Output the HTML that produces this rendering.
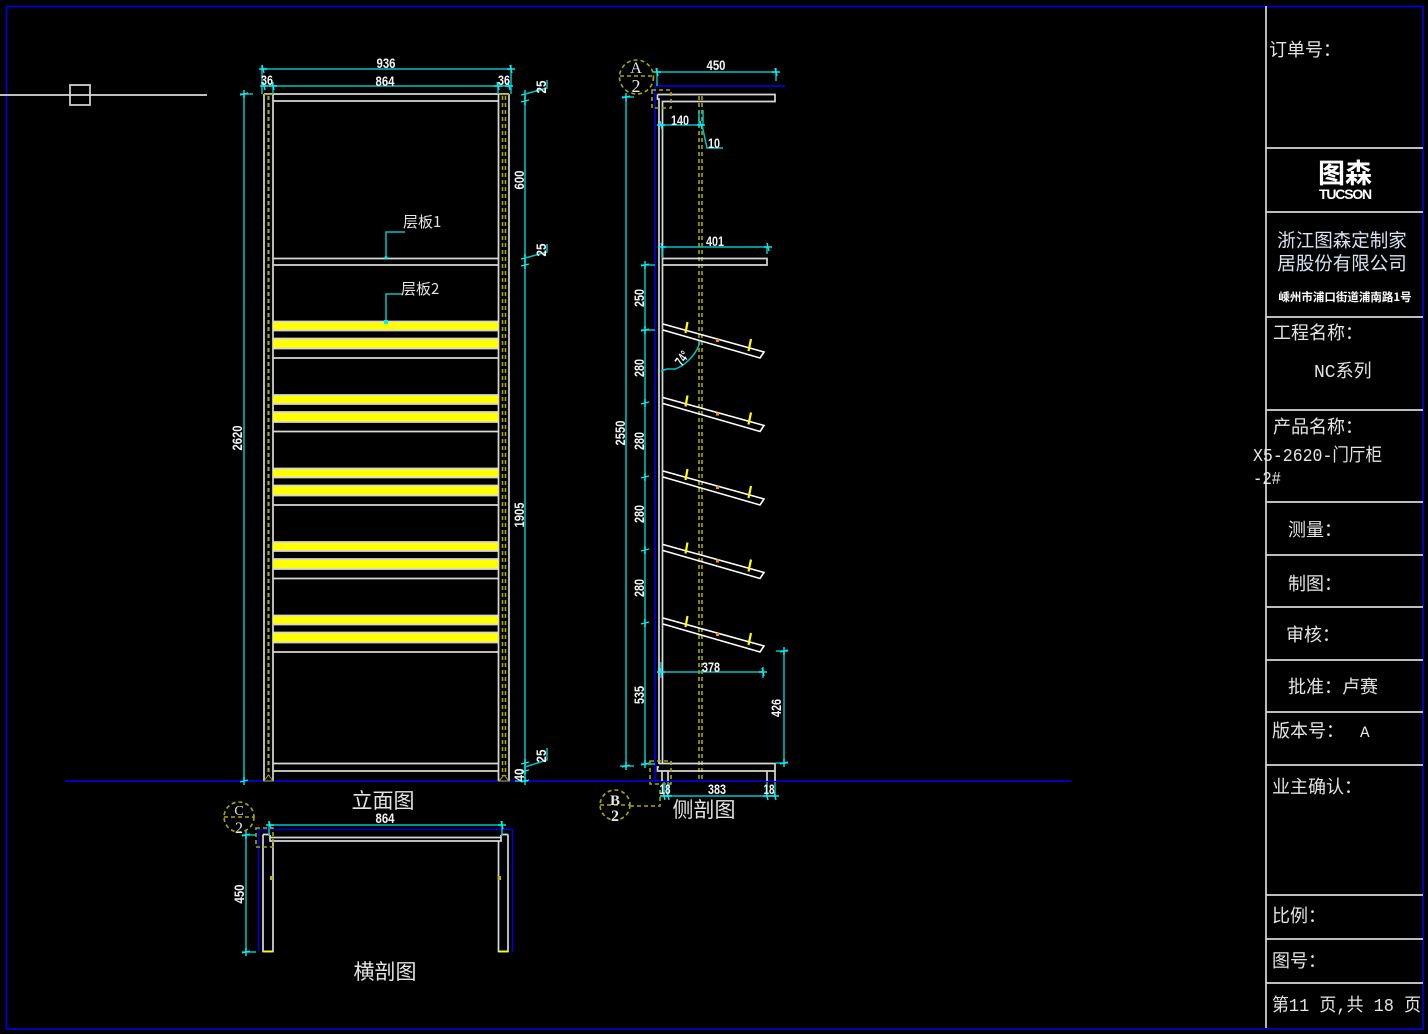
<!DOCTYPE html>
<html><head><meta charset="utf-8"><style>
html,body{margin:0;padding:0;background:#000;width:1428px;height:1034px;overflow:hidden}
svg{display:block}
.w{stroke:#d8d8d8;stroke-width:1.7;fill:none}
.wb{stroke:#fff;stroke-width:1.6;fill:none}
.c{stroke:#00c4c4;stroke-width:1.5;fill:none}
.cb{stroke:#00f0f0;stroke-width:1.4;fill:none}
.b{stroke:#0000d8;stroke-width:1.7;fill:none}
.o{stroke:#a8a800;stroke-width:1.6;fill:none;stroke-dasharray:4 3}
.y{stroke:#ffff00;stroke-width:2.2;fill:none}
text{fill:#e8e8e8;font-family:"Liberation Sans","WenQuanYi Zen Hei","Noto Sans CJK SC",sans-serif}
.d{font-family:"Liberation Sans",sans-serif;font-weight:bold;font-size:14px;fill:#f4f4f4;text-anchor:middle}
.t{font-family:"WenQuanYi Zen Hei","Noto Sans CJK SC",sans-serif;font-size:18px;fill:#e4e4e4}
.m{font-family:"Liberation Mono","WenQuanYi Zen Hei",monospace;font-size:18px;fill:#e4e4e4}
.l{font-family:"WenQuanYi Zen Hei","Noto Sans CJK SC",sans-serif;font-size:21px;fill:#e4e4e4;text-anchor:middle}
</style></head><body>
<svg width="1428" height="1034" viewBox="0 0 1428 1034" xmlns="http://www.w3.org/2000/svg">
<defs>
<g id="ty"><path class="cb" d="M-4 1 L4 -1 M0 -4 V4"/></g>
<g id="tx"><path class="cb" d="M-1 -4 L1 4 M-4 0 H4"/></g>
<g id="bays">
<rect x="273" y="322" width="225" height="8" fill="#ffff00"/>
<rect x="273" y="339" width="225" height="9" fill="#ffff00"/>
<path class="w" d="M273 321.500H498 M273 330.500H498 M273 338.500H498 M273 348.500H498 M273 358H498"/>
</g>
<g id="sh">
<path class="wb" d="M663 324 L764 352 L760 358 L663 330"/>
<path class="y" d="M687.500 322 L685.500 333 M751 339 L748.500 351"/>
<rect x="716" y="339" width="3" height="3" fill="#ff9000"/>
</g>
</defs>
<rect width="1428" height="1034" fill="#000"/>
<rect class="b" x="6.500" y="6.500" width="1416.500" height="1022.500"/>

<!-- crosshair -->
<path class="w" d="M0 95H207"/><rect class="w" x="70" y="85" width="20" height="20"/>

<!-- baseline -->
<path class="b" d="M65 781H1071"/>

<!-- FRONT ELEVATION -->
<path class="w" d="M264 94V781 M273 94V781 M498.500 94V781 M509 94V781 M264 94H509 M273 101H498 M273 258.500H498 M273 265H498 M273 763.500H498 M273 771H498"/>
<path class="o" style="stroke-width:2.200" d="M268.500 96V776"/>
<path class="o" d="M502.500 96V776 M505.500 96V776"/>
<path d="M264 781L268.500 775L273 781Z M499 781L504 775L509 781Z" fill="none" stroke="#a8a800"/>
<path d="M264 94.500H273 M499 94.500H509" stroke="#a8a800" stroke-width="1.300"/>
<use href="#bays"/>
<use href="#bays" y="73.500"/>
<use href="#bays" y="147"/>
<use href="#bays" y="220.500"/>
<use href="#bays" y="294"/>

<!-- front dims -->
<path class="c" d="M262 69H511 M262 65V94 M511 65V94 M263 86H510 M273 82V94 M498 82V94 M244 94V781 M240 94H253 M525 94V781 M515 781H528"/>
<use href="#tx" x="263" y="69"/><use href="#tx" x="511" y="69"/>
<use href="#tx" x="264" y="86"/><use href="#tx" x="273" y="86"/><use href="#tx" x="498" y="86"/><use href="#tx" x="509" y="86"/>
<use href="#ty" x="244" y="94"/><use href="#ty" x="244" y="781"/>
<use href="#ty" x="525" y="94"/><use href="#ty" x="525" y="101"/><use href="#ty" x="525" y="258"/><use href="#ty" x="525" y="265"/><use href="#ty" x="525" y="763"/><use href="#ty" x="525" y="771"/><use href="#ty" x="525" y="781"/>
<path class="c" d="M525 94L547 88V80 M525 258L547 252V244 M525 767L547 760V748"/>
<text class="d" x="386" y="68" textLength="19" lengthAdjust="spacingAndGlyphs">936</text>
<text class="d" x="385" y="86" textLength="19" lengthAdjust="spacingAndGlyphs">864</text>
<text class="d" x="267" y="85" textLength="12" lengthAdjust="spacingAndGlyphs">36</text>
<text class="d" x="504" y="85" textLength="12" lengthAdjust="spacingAndGlyphs">36</text>
<text class="d" transform="translate(242,438) rotate(-90)" textLength="25" lengthAdjust="spacingAndGlyphs">2620</text>
<text class="d" transform="translate(524,180) rotate(-90)" textLength="19" lengthAdjust="spacingAndGlyphs">600</text>
<text class="d" transform="translate(524,515) rotate(-90)" textLength="25" lengthAdjust="spacingAndGlyphs">1905</text>
<text class="d" transform="translate(546,87) rotate(-90)" textLength="13" lengthAdjust="spacingAndGlyphs">25</text>
<text class="d" transform="translate(546,250) rotate(-90)" textLength="13" lengthAdjust="spacingAndGlyphs">25</text>
<text class="d" transform="translate(546,756) rotate(-90)" textLength="13" lengthAdjust="spacingAndGlyphs">25</text>
<text class="d" transform="translate(524,775) rotate(-90)" textLength="13" lengthAdjust="spacingAndGlyphs">40</text>

<!-- leaders -->
<path class="c" d="M386 258V232H405 M386 321V294H403"/>
<rect x="384.500" y="256.500" width="3" height="3" fill="#00f0f0"/><rect x="384" y="320" width="4" height="4" fill="#00f0f0"/>
<text class="t" style="font-size:15px" x="403" y="227">层板1</text>
<text class="t" style="font-size:15px" x="401" y="294">层板2</text>
<text class="l" x="383" y="808">立面图</text>

<!-- HORIZONTAL SECTION -->
<path class="b" style="stroke-width:1.500" d="M258.500 952V829.500H512.500V952"/>
<path class="w" d="M263 834.500H270 M263 834.500V951.500H273V841 M508 834.500H501 M508 834.500V951.500H498.500V841 M270 835V841H501V835 M270 837.500H501"/>
<path d="M263.500 951.500H272.500 M499 951.500H507.500" stroke="#ffff00" stroke-width="1.800"/>
<rect x="270" y="876" width="3" height="4" fill="#b8b800"/><rect x="498" y="876" width="3" height="4" fill="#b8b800"/>
<path class="c" d="M269 825H502 M269 821V836 M502 821V836 M246 835V953 M242 835H256 M242 952H256"/>
<use href="#tx" x="270" y="825"/><use href="#tx" x="502" y="825"/><use href="#ty" x="246" y="835"/><use href="#ty" x="246" y="952"/>
<text class="d" x="385" y="823" textLength="19" lengthAdjust="spacingAndGlyphs">864</text>
<text class="d" transform="translate(244,894) rotate(-90)" textLength="19" lengthAdjust="spacingAndGlyphs">450</text>
<circle class="o" cx="239" cy="817" r="15"/><path class="o" d="M224 817H254"/>
<rect class="o" x="256" y="828" width="17" height="19"/>
<text x="239" y="815" style="font-size:14px;text-anchor:middle;font-family:'Liberation Serif',serif">C</text>
<text x="239" y="833" style="font-size:16px;text-anchor:middle;font-family:'Liberation Serif',serif">2</text>
<text class="l" x="385" y="979">横剖图</text>

<!-- SIDE SECTION -->
<path class="b" d="M655 86V781 M655 86H785"/>
<path class="o" d="M699 96V781 M702 96V781"/>
<path class="w" d="M657.500 94.500H775V101.500H662.500V764 M657.500 94.500V99H659V764 M662.500 258.500V265H767V258.500H662.500"/>
<path class="w" d="M659 763.500H775V771H657.500V767H659 M662 771V781 M668 771V781 M767 771V781 M775 771V781"/>
<use href="#sh"/>
<use href="#sh" y="73.500"/>
<use href="#sh" y="147"/>
<use href="#sh" y="220.500"/>
<use href="#sh" y="294"/>
<circle class="o" cx="636.500" cy="77" r="17"/><path class="o" d="M620 76H654"/>
<rect class="o" x="652" y="90" width="19" height="18"/>
<text x="636" y="73" style="font-size:16px;text-anchor:middle;font-family:'Liberation Serif',serif">A</text>
<text x="636" y="92" style="font-size:18px;text-anchor:middle;font-family:'Liberation Serif',serif">2</text>
<circle class="o" cx="615" cy="805" r="15"/><path class="o" d="M600 805H630"/>
<text x="615" y="805" style="font-size:15px;font-weight:bold;text-anchor:middle;font-family:'Liberation Serif',serif">B</text>
<text x="615" y="821" style="font-size:16px;font-weight:bold;text-anchor:middle;font-family:'Liberation Serif',serif">2</text>
<path class="o" d="M630 806H660V790"/><rect class="o" x="650" y="761" width="21" height="23"/>
<text class="l" x="704" y="817">侧剖图</text>

<!-- side dims -->
<path class="c" d="M657 72H777 M657 68V86 M776 68V81 M660 125H704 M699 110V125 M703 110V125 M702 125L707 148H723 M662 247H768 M767 247V254 M662 247V258 M626 97V768 M622 97H634 M620 766H634 M645 265V764 M641 265H655 M641 330H655 M641 764H655 M661 672H762 M763 667V678 M661 662V678 M784 651V763 M776 651H788 M776 763H788 M660 796H775 M664 782V797 M668 782V797 M767 782V797 M775 782V797"/>
<path class="c" d="M661 371L667 369H675C685 366 698 353 700 341"/>
<use href="#tx" x="657" y="72"/><use href="#tx" x="776" y="72"/><use href="#tx" x="661" y="125"/><use href="#tx" x="701" y="125"/>
<use href="#tx" x="662" y="247"/><use href="#tx" x="768" y="247"/><use href="#tx" x="661" y="672"/><use href="#tx" x="763" y="672"/>
<use href="#ty" x="626" y="97"/><use href="#ty" x="626" y="766"/><use href="#ty" x="784" y="651"/><use href="#ty" x="784" y="763"/>
<use href="#ty" x="645" y="265"/><use href="#ty" x="645" y="330"/><use href="#ty" x="645" y="403"/><use href="#ty" x="645" y="477"/><use href="#ty" x="645" y="550"/><use href="#ty" x="645" y="623"/><use href="#ty" x="645" y="764"/>
<use href="#tx" x="664" y="796"/><use href="#tx" x="668" y="796"/><use href="#tx" x="767" y="796"/><use href="#tx" x="775" y="796"/>
<text class="d" x="716" y="70" textLength="19" lengthAdjust="spacingAndGlyphs">450</text>
<text class="d" x="680" y="125" textLength="18" lengthAdjust="spacingAndGlyphs">140</text>
<text class="d" x="714" y="148" textLength="12" lengthAdjust="spacingAndGlyphs">10</text>
<text class="d" x="715" y="246" textLength="18" lengthAdjust="spacingAndGlyphs">401</text>
<text class="d" x="711" y="672" textLength="18" lengthAdjust="spacingAndGlyphs">378</text>
<text class="d" x="717" y="794" textLength="18" lengthAdjust="spacingAndGlyphs">383</text>
<text class="d" x="665" y="794" textLength="11" lengthAdjust="spacingAndGlyphs">18</text>
<text class="d" x="769" y="794" textLength="11" lengthAdjust="spacingAndGlyphs">18</text>
<text class="d" transform="translate(625,433) rotate(-90)" textLength="25" lengthAdjust="spacingAndGlyphs">2550</text>
<text class="d" transform="translate(644,298) rotate(-90)" textLength="18" lengthAdjust="spacingAndGlyphs">250</text>
<text class="d" transform="translate(644,368) rotate(-90)" textLength="18" lengthAdjust="spacingAndGlyphs">280</text>
<text class="d" transform="translate(644,441) rotate(-90)" textLength="18" lengthAdjust="spacingAndGlyphs">280</text>
<text class="d" transform="translate(644,514) rotate(-90)" textLength="18" lengthAdjust="spacingAndGlyphs">280</text>
<text class="d" transform="translate(644,588) rotate(-90)" textLength="18" lengthAdjust="spacingAndGlyphs">280</text>
<text class="d" transform="translate(644,695) rotate(-90)" textLength="18" lengthAdjust="spacingAndGlyphs">535</text>
<text class="d" transform="translate(781,708) rotate(-90)" textLength="18" lengthAdjust="spacingAndGlyphs">426</text>
<text class="d" transform="translate(686,361) rotate(-55)" textLength="14" lengthAdjust="spacingAndGlyphs">74°</text>

<!-- TITLE BLOCK -->
<path class="w" d="M1266 6V1028 M1266 148H1423 M1266 212H1423 M1266 317H1423 M1266 410H1423 M1266 502H1423 M1266 555H1423 M1266 607H1423 M1266 660H1423 M1266 712H1423 M1266 765H1423 M1266 895H1423 M1266 939H1423 M1266 983H1423"/>
<text class="t" x="1269" y="56">订单号：</text>
<text x="1345" y="183" style="font-size:27px;font-weight:bold;text-anchor:middle;fill:#fff;font-family:'Noto Sans CJK SC',sans-serif">图森</text>
<text x="1345" y="199" style="font-size:14px;font-weight:bold;text-anchor:middle;fill:#fff;letter-spacing:-1.200px">TUCSON</text>
<text x="1342" y="247" style="font-size:18.500px;text-anchor:middle;fill:#d8e4f0;font-family:'Noto Sans CJK SC',sans-serif">浙江图森定制家</text>
<text x="1342" y="270" style="font-size:18.500px;text-anchor:middle;fill:#d8e4f0;font-family:'Noto Sans CJK SC',sans-serif">居股份有限公司</text>
<text x="1345" y="301" style="font-size:11.500px;font-weight:bold;text-anchor:middle;fill:#fff;font-family:'Noto Sans CJK SC',sans-serif">嵊州市浦口街道浦南路1号</text>
<text class="t" x="1273" y="339">工程名称：</text>
<text class="m" x="1314" y="377">NC系列</text>
<text class="t" x="1273" y="433">产品名称：</text>
<text class="m" x="1253" y="461" textLength="129" lengthAdjust="spacingAndGlyphs">X5-2620-门厅柜</text>
<text class="m" x="1253" y="484" textLength="28" lengthAdjust="spacingAndGlyphs">-2#</text>
<text class="t" x="1288" y="536">测量：</text>
<text class="t" x="1288" y="590">制图：</text>
<text class="t" x="1286" y="641">审核：</text>
<text class="t" x="1288" y="693">批准：卢赛</text>
<text class="t" x="1272" y="737">版本号：</text>
<text class="m" x="1360" y="737" style="font-size:16px">A</text>
<text class="t" x="1272" y="793">业主确认：</text>
<text class="t" x="1272" y="922">比例：</text>
<text class="t" x="1272" y="967">图号：</text>
<text class="m" x="1272" y="1011" textLength="149" lengthAdjust="spacingAndGlyphs">第11 页,共 18 页</text>
</svg>
</body></html>
